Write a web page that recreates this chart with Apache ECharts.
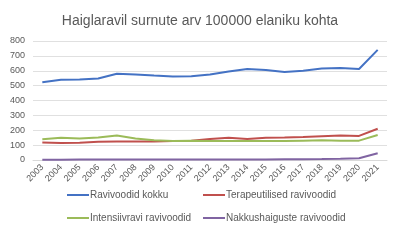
<!DOCTYPE html>
<html><head><meta charset="utf-8">
<script src="https://cdn.jsdelivr.net/npm/echarts@6/dist/echarts.min.js"></script>
<style>html,body{margin:0;padding:0;background:#fff}#c{width:400px;height:240px}</style>
</head><body><div id="c"></div>
<script>
const years = ['2003','2004','2005','2006','2007','2008','2009','2010','2011','2012','2013','2014','2015','2016','2017','2018','2019','2020','2021'];
const kokku = [522,540,542,548,580,575,568,562,563,575,595,612,605,592,600,615,618,612,740];
const terapeutilised = [118,115,116,122,125,125,125,128,130,142,150,142,150,152,155,160,165,162,210];
const intensiivravi = [140,150,145,152,165,145,133,128,130,127,128,127,128,128,130,132,130,130,168];
const nakkus = [2,2,3,3,3,3,3,3,4,4,4,4,4,5,5,6,8,12,45];
const yTicks = [0,100,200,300,400,500,600,700,800];
const names = ['Ravivoodid kokku','Terapeutilised ravivoodid','Intensiivravi ravivoodid','Nakkushaiguste ravivoodid'];

const chart = echarts.init(document.getElementById('c'), null, {renderer:'canvas'});
const mk = (name, data, color) => ({name, type:'line', data, symbol:'none', lineStyle:{width:2, color}, itemStyle:{color}});
const lg = (name, left, top) => ({data:[name], left, top, itemWidth:22, itemHeight:2, icon:'rect', padding:0,
  textStyle:{fontFamily:'Liberation Sans', fontSize:10, color:'#595959', padding:[0,0,0,-4]}});
chart.setOption({
  animation:false,
  title:{text:'Haiglaravil surnute arv 100000 elaniku kohta', left:'center', top:9,
    textStyle:{fontFamily:'Liberation Sans', fontSize:14, fontWeight:'normal', color:'#595959'}},
  grid:{left:33, right:13, top:41, bottom:80},
  legend:[lg(names[0],67,190), lg(names[1],203,190), lg(names[2],67,213), lg(names[3],203,213)],
  xAxis:{type:'category', data:years, boundaryGap:true,
    axisLine:{lineStyle:{color:'#d9d9d9'}}, axisTick:{show:false},
    axisLabel:{rotate:45, fontSize:9, color:'#595959', fontFamily:'Liberation Sans', interval:0, margin:6}},
  yAxis:{type:'value', min:yTicks[0], max:yTicks[yTicks.length-1], interval:100,
    axisLine:{show:false}, axisTick:{show:false},
    axisLabel:{fontSize:9, color:'#595959', fontFamily:'Liberation Sans', margin:8},
    splitLine:{lineStyle:{color:'#e0e0e0'}}},
  series:[
    mk(names[0], kokku, '#4472c4'),
    mk(names[1], terapeutilised, '#c0504d'),
    mk(names[2], intensiivravi, '#9bbb59'),
    mk(names[3], nakkus, '#8064a2')
  ]
});
</script></body></html>
